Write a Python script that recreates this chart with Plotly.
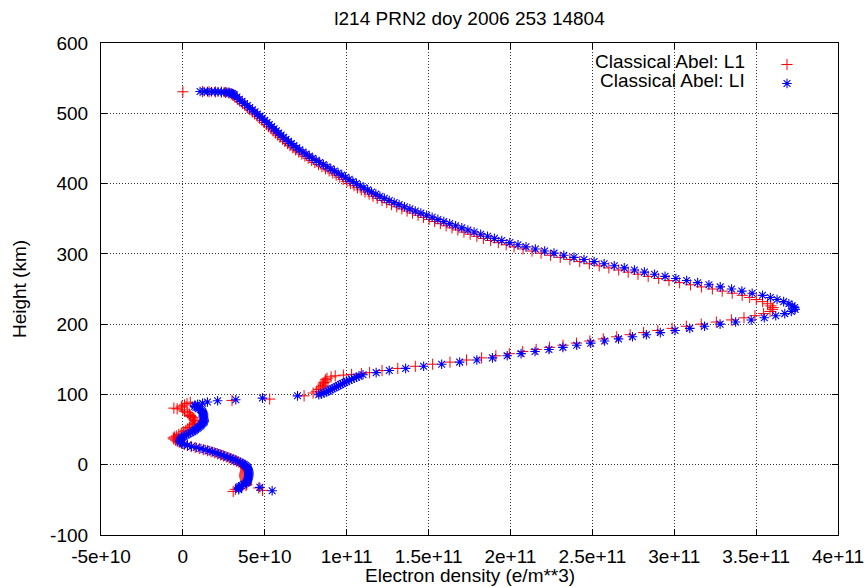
import plotly.graph_objects as go

# ---------------- text ----------------
title_text = "l214 PRN2 doy 2006 253 14804"
x_label = "Electron density (e/m**3)"
y_label = "Height (km)"
name_l1 = "Classical Abel: L1"
name_li = "Classical Abel: LI"

x_tick_values_e10 = [-5, 0, 5, 10, 15, 20, 25, 30, 35, 40]
x_tick_labels = ["-5e+10", "0", "5e+10", "1e+11", "1.5e+11", "2e+11",
                 "2.5e+11", "3e+11", "3.5e+11", "4e+11"]
y_tick_values = [-100, 0, 100, 200, 300, 400, 500, 600]
y_tick_labels = ["-100", "0", "100", "200", "300", "400", "500", "600"]

# ---------------- Classical Abel: LI (blue) ----------------
# heights in km, densities in units of 1e10 e/m^3
li_top_h = [531.0, 530.9, 530.8, 530.7, 530.6, 530.5, 530.3, 530.1, 529.8, 529.4, 528.8, 528.0, 527.0]
li_top_x = [1.05, 1.30, 1.50, 1.75, 1.95, 2.15, 2.35, 2.52, 2.68, 2.82, 2.93, 3.02, 3.09]

li_upper_h = [526, 523, 520, 517, 514, 511, 508, 505, 502, 499,
              496, 493, 490, 487, 484, 481, 478, 475, 472, 469,
              466, 463, 460, 457, 454, 451, 448, 445, 442, 439,
              436, 433, 430, 427, 424, 421, 418, 415, 412, 409,
              406, 403, 400, 397, 394, 391, 388, 385, 382, 379,
              376, 373, 370, 367, 364, 361, 358, 355, 352, 349,
              346, 343, 340, 337, 334, 331, 328, 325, 322, 319,
              316, 313, 310, 307, 304, 301, 298, 295, 292, 289,
              286, 283, 280, 277, 274, 271, 268, 265, 262, 259,
              256, 253, 250, 247, 244, 241, 238, 235, 232, 229,
              226, 223.5]
li_upper_x = [3.15, 3.30, 3.45, 3.61, 3.77, 3.93, 4.08, 4.24, 4.40, 4.55,
              4.70, 4.85, 5.00, 5.14, 5.28, 5.42, 5.57, 5.71, 5.85, 6.00,
              6.15, 6.30, 6.45, 6.62, 6.78, 6.95, 7.13, 7.33, 7.52, 7.72,
              7.93, 8.14, 8.35, 8.58, 8.80, 9.03, 9.25, 9.48, 9.70, 9.93,
              10.15, 10.38, 10.60, 10.83, 11.05, 11.28, 11.52, 11.78, 12.03, 12.30,
              12.60, 12.90, 13.20, 13.53, 13.86, 14.19, 14.53, 14.88, 15.22, 15.57,
              15.93, 16.29, 16.65, 17.03, 17.40, 17.78, 18.18, 18.60, 19.02, 19.47,
              19.96, 20.46, 20.95, 21.52, 22.09, 22.66, 23.26, 23.88, 24.49, 25.11,
              25.72, 26.34, 26.95, 27.57, 28.18, 28.80, 29.44, 30.10, 30.76, 31.43,
              32.12, 32.81, 33.50, 34.13, 34.76, 35.39, 35.87, 36.28, 36.68, 37.00,
              37.20, 37.35]

li_lower_h = [221, 218, 215, 212, 209, 206, 203, 200, 197, 194,
              191, 188, 185, 182, 179, 176, 173, 170, 167, 164,
              161, 158, 155, 152, 149, 146, 143, 140, 137, 134,
              131, 128]
li_lower_x = [37.38, 37.15, 36.75, 36.20, 35.50, 34.70, 33.75, 32.80, 31.85, 30.95,
              30.05, 29.15, 28.30, 27.45, 26.60, 25.75, 24.90, 24.05, 23.20, 22.35,
              21.50, 20.65, 19.80, 18.90, 17.95, 16.90, 15.80, 14.70, 13.60, 12.60,
              11.80, 11.00]

li_e_h = [126, 124.5, 123, 121.5, 120, 118.5, 117, 115.5, 114, 112.5,
          111, 109.5, 108, 106.5, 105, 103.5, 102, 100.5, 99.5,
          98, 94.8, 92.5, 91, 89.2]
li_e_x = [10.75, 10.60, 10.45, 10.30, 10.15, 10.00, 9.88, 9.75, 9.62, 9.50,
          9.37, 9.25, 9.12, 9.00, 8.88, 8.75, 8.62, 8.45, 8.30,
          7.00, 4.86, 3.23, 2.12, 1.50]

li_low_h = [87.5, 86, 84.5, 83, 81.5, 80, 78.5, 77, 75.5, 74,
            72.5, 71, 69.5, 68, 66.5, 65, 63.5, 62, 60.5, 59,
            57.5, 56, 54.5, 53, 51.5, 50, 48.5, 47, 45.5, 44,
            42.5, 41, 39.5, 38, 36.5, 35, 33.5, 32, 30.5, 29,
            27.5, 26, 24.5, 23, 21.5, 20, 18.5, 17, 15.5, 14,
            12.5, 11, 9.5, 8, 6.5, 5, 3.5, 2, 0.5, -1,
            -2.5, -4, -5.5, -7, -8.5, -10, -11.5, -13, -14.5, -16,
            -17.5, -19, -20.5, -22, -23.5, -25, -26.5, -28, -29.5, -31,
            -32.5, -34, -35.5, -32.2, -37]
li_low_x = [1.20, 0.90, 0.75, 0.72, 0.80, 0.95, 1.08, 1.15, 1.20, 1.23,
            1.25, 1.26, 1.25, 1.25, 1.27, 1.28, 1.30, 1.30, 1.28, 1.22,
            1.15, 1.10, 1.04, 0.95, 0.87, 0.78, 0.70, 0.60, 0.47, 0.35,
            0.22, 0.10, 0.00, -0.08, -0.13, -0.17, -0.18, -0.14, -0.05, 0.08,
            0.28, 0.53, 0.82, 1.10, 1.36, 1.60, 1.82, 2.02, 2.20, 2.38,
            2.56, 2.74, 2.90, 3.06, 3.20, 3.35, 3.50, 3.62, 3.74, 3.83,
            3.90, 3.94, 3.97, 3.99, 4.01, 4.02, 4.03, 4.03, 4.02, 4.02,
            4.01, 4.00, 3.98, 3.96, 3.93, 3.90, 3.85, 3.72, 3.58, 3.48,
            3.42, 3.40, 3.41, 4.70, 5.45]

# ---------------- Classical Abel: L1 (red) ----------------
l1_top_h = [530.6, 530.8, 530.6, 530.4, 530.1, 529.6, 528.8, 527.6]
l1_top_x = [0.00, 1.20, 1.60, 2.00, 2.35, 2.60, 2.80, 2.95]

l1_upper_h = list(li_upper_h)
l1_upper_x = [3.04, 3.18, 3.33, 3.48, 3.64, 3.79, 3.94, 4.09, 4.25, 4.39,
              4.54, 4.68, 4.83, 4.96, 5.10, 5.23, 5.38, 5.51, 5.65, 5.79,
              5.93, 6.08, 6.22, 6.39, 6.54, 6.71, 6.88, 7.07, 7.26, 7.45,
              7.65, 7.86, 8.06, 8.28, 8.49, 8.71, 8.93, 9.15, 9.36, 9.58,
              9.79, 10.02, 10.23, 10.45, 10.66, 10.89, 11.12, 11.37, 11.61, 11.87,
              12.16, 12.45, 12.74, 13.06, 13.37, 13.69, 14.02, 14.36, 14.69, 15.03,
              15.37, 15.72, 16.07, 16.43, 16.79, 17.16, 17.54, 17.95, 18.35, 18.79,
              19.26, 19.74, 20.22, 20.77, 21.32, 21.87, 22.45, 23.04, 23.63, 24.23,
              24.82, 25.42, 26.01, 26.61, 27.19, 27.79, 28.41, 29.05, 29.68, 30.33,
              30.99, 31.66, 32.33, 32.93, 33.54, 34.15, 34.61, 35.01, 35.40, 35.70,
              35.90, 36.04]

l1_lower_h = [221, 218, 215, 212, 209, 206, 203, 200, 197, 194,
              191, 188, 185, 182, 179, 176, 173, 170, 167, 164,
              161, 158, 155, 152, 149, 146, 143, 140, 137, 134,
              131]
l1_lower_x = [36.00, 35.85, 35.46, 34.93, 34.26, 33.49, 32.57, 31.65, 30.74, 29.87,
              29.00, 28.13, 27.31, 26.49, 25.67, 24.85, 24.03, 23.21, 22.39, 21.57,
              20.75, 19.93, 19.11, 18.24, 17.32, 16.31, 15.25, 14.19, 13.12, 12.16,
              11.40]

l1_e_h = [129.5, 128.5, 127.5, 126.5, 125, 123, 121, 119, 117, 115,
          113, 111, 109, 107, 104.5, 102, 98, 93.4, 91.5]
l1_e_x = [10.90, 10.30, 9.80, 9.30, 9.05, 8.80, 8.72, 8.68, 8.62, 8.58,
          8.55, 8.50, 8.40, 8.30, 8.15, 7.95, 7.40, 5.30, 3.00]

l1_low_h = [89, 87, 85, 83.5, 82, 80.5, 79.5, 78, 76, 74,
            72, 70, 68.5, 67, 65, 63, 61, 59, 57, 55,
            53, 51, 49, 47, 45, 43, 41, 39.5, 38, 36.5,
            35, 33.5, 32, 30.5, 29, 27.5, 26, 24.5, 23, 21.5,
            20, 18.5, 17, 15.5, 14, 12.5, 11, 9.5, 8, 6.5,
            5, 3.5, 2, 0.5, -1, -2.5, -4, -5.5, -7, -8.5,
            -10, -11.5, -13, -14.5, -16, -17.5, -19, -20.5, -22, -23.5,
            -25, -26.5, -28, -29.5, -31, -33, -36.5, -35, -38]
l1_low_x = [0.45, 0.25, 0.10, -0.05, -0.10, -0.55, -0.35, 0.00, 0.10, 0.30,
            0.40, 0.45, 0.50, 0.60, 0.65, 0.72, 0.75, 0.70, 0.60, 0.50,
            0.40, 0.30, 0.18, 0.05, -0.10, -0.25, -0.40, -0.52, -0.59, -0.55,
            -0.45, -0.35, -0.22, -0.08, 0.08, 0.28, 0.50, 0.75, 1.00, 1.25,
            1.50, 1.72, 1.92, 2.12, 2.30, 2.48, 2.65, 2.82, 2.98, 3.12,
            3.27, 3.42, 3.54, 3.64, 3.72, 3.78, 3.82, 3.84, 3.85, 3.84,
            3.82, 3.80, 3.78, 3.77, 3.77, 3.78, 3.80, 3.82, 3.84, 3.85,
            3.87, 3.88, 3.90, 3.85, 3.60, 4.63, 4.86, 3.20, 3.07]

SCALE = 1e10  # unit of the density lists

li_h = li_top_h + li_upper_h + li_lower_h + li_e_h + li_low_h
li_x = [v * SCALE for v in li_top_x + li_upper_x + li_lower_x + li_e_x + li_low_x]
l1_h = l1_top_h + l1_upper_h + l1_lower_h + l1_e_h + l1_low_h
l1_x = [v * SCALE for v in l1_top_x + l1_upper_x + l1_lower_x + l1_e_x + l1_low_x]
assert len(li_h) == len(li_x) and len(l1_h) == len(l1_x)

FONT = "Liberation Sans, Arial, Helvetica, sans-serif"
W, H = 866, 587
ML, MR, MT, MB = 101, 28, 43, 52

fig = go.Figure()
fig.add_trace(go.Scatter(
    x=l1_x, y=l1_h, mode="markers", name=name_l1,
    marker=dict(symbol="cross-thin-open", size=8, color="#ff0000",
                line=dict(color="#ff0000", width=1)),
))
fig.add_trace(go.Scatter(
    x=li_x, y=li_h, mode="markers", name=name_li,
    marker=dict(symbol="asterisk-open", size=8, color="#0000ff",
                line=dict(color="#0000ff", width=1.1)),
))

axis_common = dict(
    showline=True, linecolor="black", linewidth=1.2, mirror="ticks",
    ticks="inside", ticklen=6, tickwidth=1, tickcolor="black",
    showgrid=True, gridcolor="#333333", gridwidth=1, griddash="1px,2px",
    zeroline=False, automargin=False,
    tickfont=dict(family=FONT, size=19, color="black"),
)

fig.update_xaxes(
    range=[-5 * SCALE, 40 * SCALE],
    tickmode="array",
    tickvals=[v * SCALE for v in x_tick_values_e10],
    ticktext=x_tick_labels,
    ticklabelstandoff=4,
    **axis_common,
)
fig.update_yaxes(
    range=[-100, 600],
    tickmode="array",
    tickvals=y_tick_values,
    ticktext=y_tick_labels,
    ticklabelstandoff=8,
    title=dict(text=y_label, font=dict(family=FONT, size=19, color="black"), standoff=18),
    **axis_common,
)

PW = W - ML - MR
PH = H - MT - MB

def px_x(p):
    return (p - ML) / PW

def px_y(p):
    return (H - MB - p) / PH

# x-axis title, placed below the tick labels
fig.add_annotation(xref="paper", yref="paper", x=0.5, y=px_y(575.5),
                   xanchor="center", yanchor="middle", showarrow=False,
                   text=x_label, font=dict(family=FONT, size=19, color="black"))

# key area (opaque, hides grid like the gnuplot key box)
fig.add_shape(type="rect", xref="paper", yref="paper",
              x0=px_x(590), x1=px_x(820), y0=px_y(88), y1=1.0,
              fillcolor="white", line=dict(width=0), layer="between")

# key texts (right aligned, symbol on the right)
fig.add_annotation(xref="paper", yref="paper", x=px_x(747), y=px_y(61),
                   xanchor="right", yanchor="middle", showarrow=False, height=18,
                   text=name_l1, font=dict(family=FONT, size=19, color="black"))
fig.add_annotation(xref="paper", yref="paper", x=px_x(747), y=px_y(79.5),
                   xanchor="right", yanchor="middle", showarrow=False, height=18,
                   text=name_li, font=dict(family=FONT, size=19, color="black"))

fig.update_layout(
    width=W, height=H,
    margin=dict(l=ML, r=MR, t=MT, b=MB),
    paper_bgcolor="white", plot_bgcolor="white",
    title=dict(text=title_text, x=0.5, xref="paper", xanchor="center",
               y=1 - 18 / H, yref="container", yanchor="middle",
               font=dict(family=FONT, size=19, color="black")),
    showlegend=True,
    legend=dict(x=px_x(767), y=px_y(50), xanchor="left", yanchor="top",
                bgcolor="rgba(0,0,0,0)", borderwidth=0,
                font=dict(family=FONT, size=1, color="rgba(0,0,0,0)"),
                tracegroupgap=0, itemsizing="trace"),
)

fig.write_html("out.html", config={"displayModeBar": False},
               post_script="document.body.style.margin='0px';")
